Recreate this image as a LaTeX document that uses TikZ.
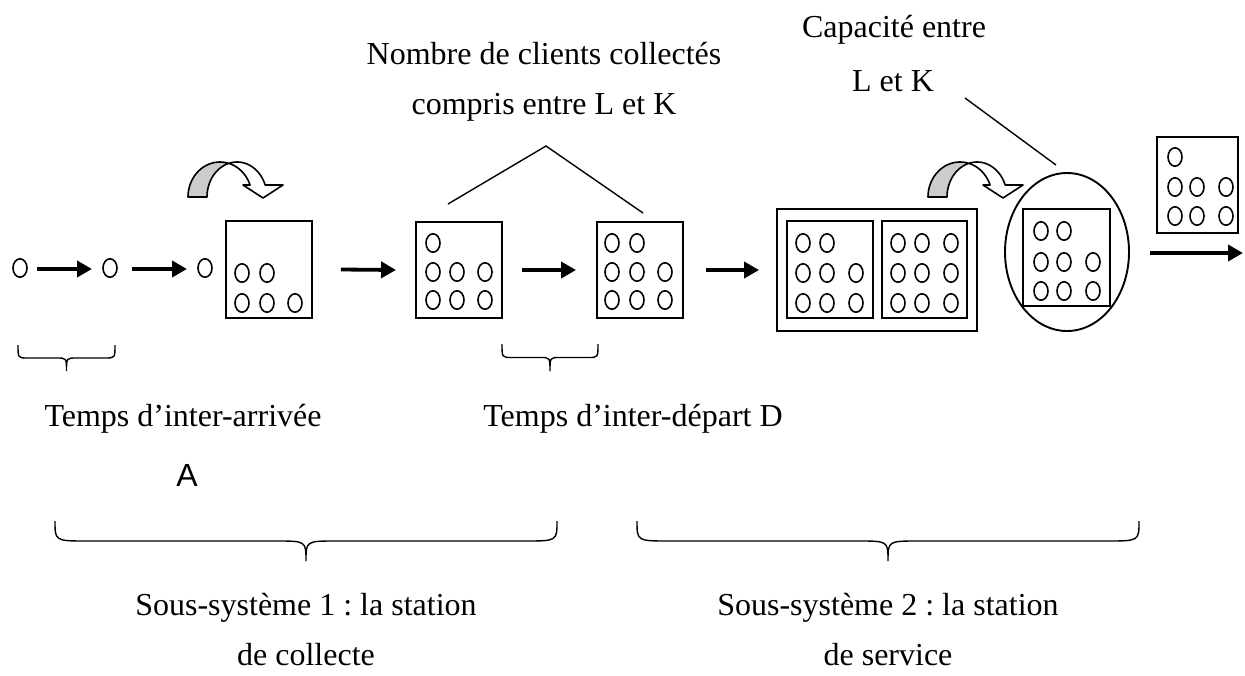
\documentclass[tikz,border=0pt]{standalone}
\usepackage{fontspec}
\setmainfont{Liberation Serif}
\newfontfamily\arialfont{Liberation Sans}
\usetikzlibrary{arrows.meta,shapes.geometric}
\definecolor{rib}{RGB}{204,204,204}
\frenchspacing
\newcommand\cl[2]{\draw[cli] (#1,#2) ellipse [x radius=7pt, y radius=9.2pt];}
\newcommand\brc[6]{\draw[thinl] (#1,#3) .. controls (#1,{(#3+#4)/2}) .. ({#1+#5},{(#3+#4)/2}) -- ({(#1+#2)/2-#6},{(#3+#4)/2}) .. controls ({(#1+#2)/2},{(#3+#4)/2}) .. ({(#1+#2)/2},#4) .. controls ({(#1+#2)/2},{(#3+#4)/2}) .. ({(#1+#2)/2+#6},{(#3+#4)/2}) -- ({#2-#5},{(#3+#4)/2}) .. controls (#2,{(#3+#4)/2}) .. (#2,#3);}
\begin{document}
\begin{tikzpicture}[x=1pt,y=-1pt,
  cli/.style={line width=1.6pt},
  boxst/.style={draw, line width=1.9pt, inner sep=0pt, minimum width=#1},
  arr/.style={line width=3.8pt, -{Triangle[length=15pt,width=16pt]}},
  thinl/.style={line width=1.4pt},
  lbl/.style={font=\fontsize{32}{38}\selectfont, inner sep=0pt, anchor=base}]
\useasboundingbox (0,0) rectangle (1245,675);

% free clients
\cl{20}{268}\cl{110}{268}\cl{205}{268}
\coordinate (a1s) at (37,269); \coordinate (a1e) at (92,269);
\coordinate (a2s) at (132,269); \coordinate (a2e) at (187,269);
\draw[arr] (a1s) -- (a1e);
\draw[arr] (a2s) -- (a2e);

% boxes
\node[boxst=86pt, minimum height=97pt] (b1) at (269,269.5) {};
\node[boxst=86pt, minimum height=96pt] (b2) at (459,270) {};
\node[boxst=86pt, minimum height=96pt] (b3) at (640,270) {};
\node[boxst=200pt, minimum height=122pt] (bo) at (877,270) {};
\node[boxst=86pt, minimum height=97pt] (ba) at (830,269.5) {};
\node[boxst=85pt, minimum height=97pt] (bb) at (924.5,269.5) {};
\node[draw, line width=1.9pt, ellipse, inner sep=0pt, minimum width=124pt, minimum height=158pt] (el) at (1067,252) {};
\node[boxst=87pt, minimum height=97pt] (be) at (1066.5,257.5) {};
\node[boxst=81pt, minimum height=96pt] (br) at (1197.5,185) {};

% clients in boxes
\cl{242}{273}\cl{267}{273}
\cl{242}{303}\cl{267}{303}\cl{295}{303}

\cl{433}{243}
\foreach \y in {272,300} {\cl{433}{\y}\cl{457}{\y}\cl{485}{\y}}

\cl{612}{243}\cl{637}{243}
\foreach \y in {272,300} {\cl{612}{\y}\cl{637}{\y}\cl{665}{\y}}

\cl{803}{243}\cl{827}{243}
\foreach \y in {273,303} {\cl{803}{\y}\cl{827}{\y}\cl{856}{\y}}

\foreach \y in {243,273,303} {\cl{898}{\y}\cl{922}{\y}\cl{951}{\y}}

\cl{1041}{231}\cl{1064}{231}
\foreach \y in {262,291} {\cl{1041}{\y}\cl{1064}{\y}\cl{1093}{\y}}

\cl{1175}{157}
\foreach \y in {187,216} {\cl{1175}{\y}\cl{1197}{\y}\cl{1226}{\y}}

% arrows between boxes
\draw[arr] ([xshift=28pt]b1.east) -- ([xshift=-19pt]b2.west);
\draw[arr] ([xshift=19pt]b2.east) -- ([xshift=-20pt]b3.west);
\draw[arr] ([xshift=22pt]b3.east) -- ([xshift=-17pt]bo.west);
\coordinate (outs) at (1150,253); \coordinate (oute) at (1243,253);
\draw[arr] (outs) -- (oute);

% curved arrows
\foreach \dx in {0,740} {
 \begin{scope}[xshift=\dx pt]
  \fill[white] plot[domain=180:20,samples=40,variable=\t] ({220+32*cos(\t)},{197-35*sin(\t)}) -- (243,185) -- (263,198) -- (283,185) -- plot[domain=20:180,samples=40,variable=\t] ({237+30*cos(\t)},{197-35*sin(\t)}) -- cycle;
  \begin{scope}
   \clip (150,150) rectangle (228.8,205);
   \fill[rib] plot[domain=180:20,samples=40,variable=\t] ({220+32*cos(\t)},{197-35*sin(\t)}) -- (243,185) -- (263,198) -- (283,185) -- plot[domain=20:180,samples=40,variable=\t] ({237+30*cos(\t)},{197-35*sin(\t)}) -- cycle;
  \end{scope}
  \draw[line width=1.6pt, line join=round] plot[domain=180:20,samples=40,variable=\t] ({220+32*cos(\t)},{197-35*sin(\t)}) -- (243,185) -- (263,198) -- (283,185) -- plot[domain=20:180,samples=40,variable=\t] ({237+30*cos(\t)},{197-35*sin(\t)}) -- cycle;
 \end{scope}
}

% annotation lines
\coordinate (apex) at (546,146);
\coordinate (tl) at (448,204);
\coordinate (tr) at (643,213);
\draw[thinl] (tl) -- (apex) -- (tr);
\coordinate (cs) at (965,98);
\coordinate (ce) at (1056,165);
\draw[thinl] (cs) -- (ce);

% braces
\brc{18}{115}{345}{371}{10}{10}
\brc{502}{598}{344}{371}{10}{10}
\brc{55}{557}{521}{561}{32}{30}
\brc{637}{1139}{521}{561}{32}{30}

% labels
\node[lbl] (t1) at (544,64) {Nombre de clients collectés};
\node[lbl] (t2) at (544,114) {compris entre L et K};
\node[lbl] (t3) at (894,37) {Capacité entre};
\node[lbl] (t4) at (893,91) {L et K};
\node[lbl] (t5) at (183,426) {Temps d’inter-arrivée};
\node[lbl, font=\arialfont\fontsize{32}{38}\selectfont] (t6) at (187,486) {A};
\node[lbl] (t7) at (633,426) {Temps d’inter-départ D};
\node[lbl] (t8) at (306,615) {Sous-système 1 : la station};
\node[lbl] (t9) at (306,665) {de collecte};
\node[lbl] (t10) at (888,615) {Sous-système 2 : la station};
\node[lbl] (t11) at (888,665) {de service};
\end{tikzpicture}
\end{document}
